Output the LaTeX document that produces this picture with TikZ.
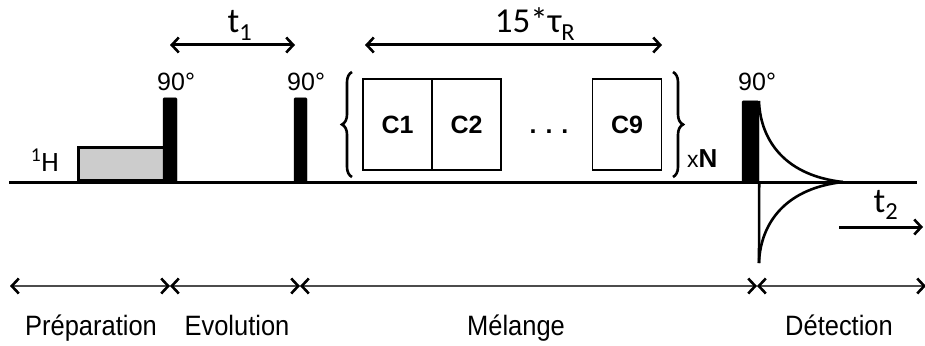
\documentclass[tikz,border=0pt]{standalone}
\usepackage{fontspec}
\setmainfont{Liberation Sans}
\newfontfamily\calib{Carlito}
\newfontfamily\narrowf[FakeStretch=0.91]{Liberation Sans}
\usetikzlibrary{arrows.meta, decorations.pathreplacing}

\tikzset{
  pulse/.style={draw=black, fill=black, inner sep=0pt, anchor=south, rounded corners=1pt},
  cyc/.style={draw, line width=1.2pt, minimum width=69pt, minimum height=91pt, inner sep=0pt,
    font=\bfseries\fontsize{25}{28}\selectfont},
  lab/.style={font=\calib\fontsize{35}{38}\selectfont, inner sep=0pt, anchor=base},
  deg/.style={font=\fontsize{25}{28}\selectfont, inner sep=0pt, anchor=base west},
  phase/.style={font=\narrowf\fontsize{28}{32}\selectfont, inner sep=0pt, anchor=base},
  barb/.tip={Straight Barb[length=7pt, width=15pt, line width=2.6pt, color=black]},
  delay/.style={line width=3pt, barb-barb},
  span/.style={line width=1.4pt, black!70, barb-barb},
  brc/.style={line width=2.6pt, decorate, decoration={brace, amplitude=10pt, aspect=0.5}}
}

\begin{document}
\begin{tikzpicture}[x=1pt, y=-1pt]
\useasboundingbox (0,0) rectangle (925,345);

% time axis
\coordinate (a0) at (9,182);
\coordinate (a1) at (917,182);
\draw[line width=3pt] (a0) -- (a1);
\node[font=\calib\fontsize{28}{32}\selectfont, inner sep=0pt, anchor=base east] (h) at (59,171) {\textsuperscript{1}H};

% preparation and pulses
\node[draw, fill=gray!40, line width=2.6pt, minimum width=86pt, minimum height=33pt,
  inner sep=0pt, anchor=south west] (sat) at (77,182) {};
\node[pulse, minimum width=14pt, minimum height=84pt] (p1) at (170,182) {};
\node[pulse, minimum width=13pt, minimum height=84pt] (p2) at (300.5,182) {};
\node[pulse, minimum width=17pt, minimum height=81pt] (p3) at (750.5,182) {};
\node[deg] (g1) at (157,90) {90°};
\node[deg] (g2) at (287,90) {90°};
\node[deg] (g3) at (738,90) {90°};

% mixing block
\node[cyc] (c1) at (397.5,124.5) {C1};
\node[cyc] (c2) at (466.5,124.5) {C2};
\node[cyc] (c9) at (627,124.5) {C9};
\node[font=\bfseries\fontsize{25}{28}\selectfont, inner sep=0pt, anchor=base] (dots) at (549,133) {.\hspace{9pt}.\hspace{9pt}.};
\coordinate (bl0) at (352,177);
\coordinate (bl1) at (352,72);
\coordinate (br0) at (673,72);
\coordinate (br1) at (673,177);
\draw[brc] (bl0) -- (bl1);
\draw[brc] (br0) -- (br1);
\node[anchor=base west, inner sep=0pt] (rep) at (687,167)
  {\fontsize{23}{26}\selectfont x\bfseries\fontsize{26}{28}\selectfont N};

% FID
\coordinate (f0) at (759,101);
\coordinate (f1) at (843,182);
\coordinate (f2) at (759,263);
\draw[line width=2.6pt] (f0) .. controls (760,135) and (780,175) .. (f1);
\draw[line width=2.6pt] (f2) .. controls (760,229) and (780,189) .. (f1);
\draw[line width=2.6pt] (p3.south east) -- (f2);

% delays
\coordinate (t1a) at (170,45);
\coordinate (t1b) at (295,45);
\draw[delay] (t1a) -- (t1b);
\node[lab] (t1) at (240,33) {t\textsubscript{1}};
\coordinate (tma) at (365,45);
\coordinate (tmb) at (662,45);
\draw[delay] (tma) -- (tmb);
\node[lab] (tm) at (535,33) {15*τ\textsubscript{R}};
\coordinate (t2a) at (839,227);
\coordinate (t2b) at (923,227);
\draw[line width=3pt, -barb] (t2a) -- (t2b);
\node[lab] (t2) at (886,212) {t\textsubscript{2}};

% periods
\coordinate (d0) at (10,286);
\coordinate (d1) at (170,286);
\coordinate (d2) at (300,286);
\coordinate (d3) at (757,286);
\coordinate (d4) at (926,286);
\draw[span] (d0) -- (d1);
\draw[span] (d1) -- (d2);
\draw[span] (d2) -- (d3);
\draw[span] (d3) -- (d4);
\node[phase] (ph1) at (91,335) {Préparation};
\node[phase] (ph2) at (237,335) {Evolution};
\node[phase] (ph3) at (516,335) {Mélange};
\node[phase] (ph4) at (839,335) {Détection};
\end{tikzpicture}
\end{document}
